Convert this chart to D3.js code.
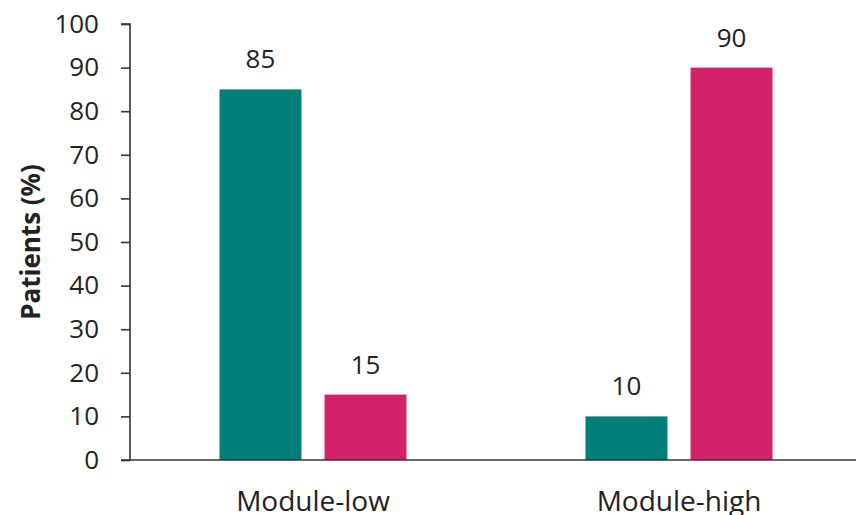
<!DOCTYPE html>
<html>
<head>
<meta charset="utf-8">
<script src="https://cdn.jsdelivr.net/npm/d3@7"></script>
<style>
  html, body { margin: 0; padding: 0; background: #fff; }
  svg { display: block; font-family: "Open Sans", sans-serif; }
</style>
</head>
<body>
<svg id="chart" width="856" height="515"></svg>
<script>
// Patient share per module group
const categories = ["Module-low", "Module-high"];
const seriesNames = ["A", "B"];
const seriesA = [85, 10];
const seriesB = [15, 90];
const yTicks = [0, 10, 20, 30, 40, 50, 60, 70, 80, 90, 100];
const yTitle = "Patients (%)";
const colors = ["#007E78", "#D3226B"];

const svg = d3.select("#chart");
const width = 856, height = 515;
const margin = { left: 130, right: -6, top: 24, bottom: 55 };
const textColor = "#222";
const groupWidth = 187;

const x = d3.scaleBand()
  .domain(categories)
  .range([margin.left, width - margin.right])
  .paddingInner(0).paddingOuter(0);

const xSub = d3.scaleBand()
  .domain(seriesNames)
  .range([0, groupWidth])
  .paddingInner(0.22);

const y = d3.scaleLinear()
  .domain([0, 100])
  .range([height - margin.bottom, margin.top]);

const rows = categories.map((c, i) => ({ cat: c, values: [seriesA[i], seriesB[i]] }));

// bars
const groups = svg.selectAll("g.grp").data(rows).enter().append("g")
  .attr("class", "grp")
  .attr("transform", d => `translate(${x(d.cat) + x.bandwidth() / 2 - groupWidth / 2},0)`);

groups.selectAll("rect").data(d => d.values.map((v, j) => ({ v, s: seriesNames[j], j })))
  .enter().append("rect")
  .attr("x", d => xSub(d.s))
  .attr("width", xSub.bandwidth())
  .attr("y", d => y(d.v))
  .attr("height", d => y(0) - y(d.v))
  .attr("fill", d => colors[d.j]);

// value labels
groups.selectAll("text.val").data(d => d.values.map((v, j) => ({ v, s: seriesNames[j] })))
  .enter().append("text")
  .attr("class", "val")
  .attr("x", d => xSub(d.s) + xSub.bandwidth() / 2)
  .attr("y", d => y(d.v) - 21)
  .attr("text-anchor", "middle")
  .attr("font-size", 26)
  .attr("fill", textColor)
  .text(d => d.v);

// y axis
const yAxis = svg.append("g")
  .attr("transform", `translate(${margin.left},0)`)
  .call(d3.axisLeft(y).tickValues(yTicks).tickSize(9).tickPadding(22).tickFormat(d3.format("d")));
yAxis.selectAll("path, line").attr("stroke", "#333").attr("stroke-width", 1.6);
yAxis.select(".domain").attr("d", `M-9,${y(100)}H0V${y(0)}`);
yAxis.selectAll("text").attr("font-size", 26).attr("fill", textColor)
  .attr("font-family", "Open Sans, sans-serif");

// x axis
const xAxis = svg.append("g")
  .attr("transform", `translate(0,${y(0)})`)
  .call(d3.axisBottom(x).tickSize(0).tickPadding(32));
xAxis.select(".domain").attr("stroke", "#333").attr("stroke-width", 1.6)
  .attr("d", `M${margin.left - 9},0H${width}`);
xAxis.selectAll("text").attr("font-size", 28).attr("fill", textColor)
  .attr("font-family", "Open Sans, sans-serif")
  .attr("dy", null).attr("y", 51);

// y title
svg.append("text")
  .attr("transform", `translate(40,${(y(0) + y(100)) / 2}) rotate(-90)`)
  .attr("text-anchor", "middle")
  .attr("font-size", 26)
  .attr("font-weight", "bold")
  .attr("fill", textColor)
  .text(yTitle);
</script>
</body>
</html>
